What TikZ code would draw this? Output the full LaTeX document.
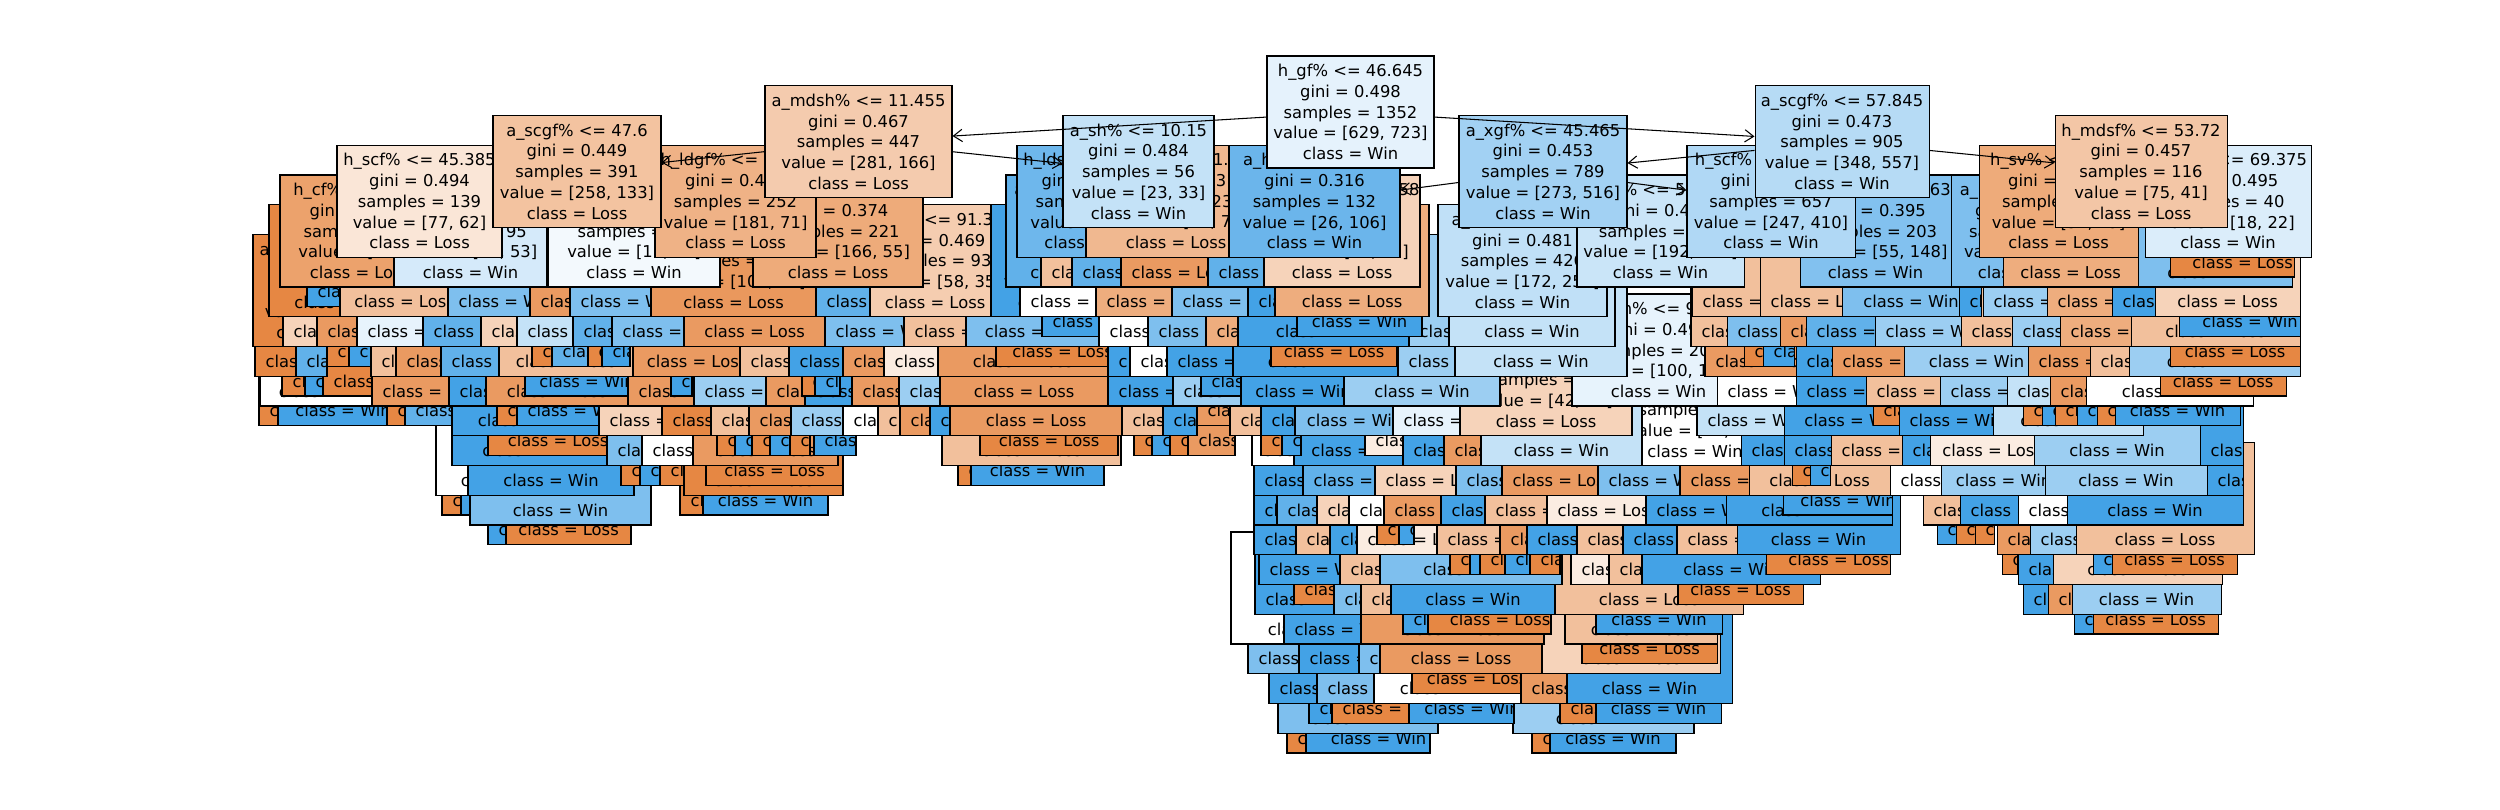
\documentclass[tikz,border=0pt]{standalone}
\usepackage{fontspec}
\setmainfont{DejaVu Sans}
\usetikzlibrary{arrows.meta}

\definecolor{loss}{RGB}{229,129,57}
\definecolor{win}{RGB}{57,157,229}
\colorlet{L1}{loss!95!white}
\colorlet{L2}{loss!80!white}
\colorlet{L3}{loss!65!white}
\colorlet{L4}{loss!50!white}
\colorlet{L5}{loss!35!white}
\colorlet{L6}{loss!15!white}
\colorlet{W1}{win!95!white}
\colorlet{W2}{win!80!white}
\colorlet{W3}{win!65!white}
\colorlet{W4}{win!50!white}
\colorlet{W5}{win!30!white}
\colorlet{W6}{win!12!white}
\colorlet{W7}{white}

\def\labL{class = Loss}
\def\labW{class = Win}

\tikzset{
  treenode/.style={draw, line width=0.6pt, inner sep=0pt, align=center,
    font=\fontsize{9.3}{11.8}\selectfont, minimum height=2.24cm},
  stripbox/.style={draw, line width=0.6pt, inner sep=0pt},
  striplabel/.style={draw=none, fill=none, inner sep=0pt, font=\fontsize{9.3}{11.8}\selectfont},
  narrowlabel/.style={path picture={\node[striplabel, anchor=west] at ([xshift=0.2cm, yshift=0.3cm]path picture bounding box.south west) {\striplab};}},
  widelabel/.style={path picture={\node[striplabel] at ([yshift=0.3cm]path picture bounding box.south) {\striplab};}},
  split/.style={-{Straight Barb[length=5pt, width=7pt]}, line width=0.6pt},
}

\def\stripparse#1#2#3\relax{\def\stripcol{#1#2}\def\striplab{\csname lab#1\endcsname}%
  \if#3l\def\striph{92}\else\def\striph{112}\fi}

\newcommand\tstrip[4]{%
  \expandafter\stripparse#4\relax
  \pgfmathsetmacro\stripw{#3-#2}%
  \pgfmathsetmacro\stripx{(#2+#3)/2}%
  \pgfmathsetmacro\stripy{112+29.75*#1}%
  \ifdim\stripw pt<125pt
    \node[stripbox, narrowlabel, fill=\stripcol, minimum width=\stripw*0.02cm, minimum height=\striph*0.02cm] (s#1-#2-#3) at (\stripx,\stripy) {};
  \else
    \node[stripbox, widelabel, fill=\stripcol, minimum width=\stripw*0.02cm, minimum height=\striph*0.02cm] (s#1-#2-#3) at (\stripx,\stripy) {};
  \fi}

\newcommand\tlevel[2]{\foreach \xa/\xb/\xk in {#2} {\tstrip{#1}{\xa}{\xb}{\xk}}}

\newcommand\tnode[6]{\pgfmathsetmacro\tny{112+29.75*#3}%
  \node[treenode, fill=#5, minimum width=#4*0.02cm] (#1) at (#2,\tny) {#6};}

\begin{document}
\begin{tikzpicture}[x=0.02cm, y=-0.02cm]
\useasboundingbox (0,0) rectangle (2500,810);

\tlevel{20}{1287/1306/L1l, 1306/1430/W1l, 1532/1550/L1l, 1550/1676/W1l}
\tlevel{19}{1278/1438/W3i, 1513/1694/W4i,
  1309/1332/W1l, 1332/1409/L1l, 1409/1514/W1l, 1560/1596/L1l, 1596/1721/W1l}
\tlevel{18}{1269/1317/W1i, 1317/1374/W3i, 1374/1521/W7i, 1521/1567/L2i, 1567/1732/W1i,
  1412/1521/L1l}
\tlevel{17}{1248/1299/W3i, 1299/1359/W1i, 1359/1380/W3i, 1380/1542/L2i, 1542/1720/L5i,
  1582/1717/L1l}
\tnode{a4}{1315.5}{16}{169}{white}{a\_sv\% <= 91.5\\gini = 0.5\\samples = 4\\value = [2, 2]\\class = Win}
\tlevel{16}{1284/1361/W1i, 1361/1544/L2i, 1565/1717/L4i,
  1403/1428/W1l, 1428/1551/L1l, 1596/1722/W1l, 2074/2093/W1l, 2093/2218/L1l}
\tlevel{15}{1255/1334/W1i, 1334/1361/W3i, 1361/1391/L4i, 1391/1555/W1i, 1555/1743/L4i,
  2023/2048/W1i, 2048/2072/L2i, 2072/2221/W4i,
  1294/1334/L1l, 1678/1803/L1l}
\tlevel{14}{1259/1340/W1i, 1340/1380/L4i, 1380/1562/W3i, 1571/1609/L6i, 1609/1642/L4i,
  1642/1820/W1i, 2018/2053/W1i, 2053/2222/L5i,
  1450/1470/L1l, 1470/1480/W1l, 1480/1505/L1l, 1505/1530/W1l, 1530/1560/L1l,
  1766/1890/L1l, 2002/2017/L1l, 2093/2112/W1l, 2112/2237/L1l}
\tlevel{13}{1254/1296/W1i, 1296/1330/L4i, 1330/1357/W1i, 1357/1437/L6i, 1437/1500/L4i,
  1500/1527/L2i, 1527/1577/W1i, 1577/1623/L4i, 1623/1677/W1i, 1677/1737/L4i,
  1737/1900/W1i, 1997/2030/L2i, 2030/2076/W4i, 2076/2254/L4i,
  488/506/W1l, 506/631/L1l, 1377/1399/L1l, 1399/1414/W1l, 1937/1956/W1l,
  1956/1975/L1l, 1975/1994/L1l}
\tlevel{12}{470/651/W3i, 1254/1277/W1i, 1277/1317/W2i, 1317/1349/L5i, 1349/1384/W7i,
  1384/1441/L2i, 1441/1485/W1i, 1485/1547/L4i, 1547/1646/L6i, 1646/1726/W1i,
  1726/1892/W1i, 1923/1960/L4i, 1960/2018/W1i, 2018/2067/W7i, 2067/2243/W1i,
  442/461/L1l, 461/470/W1l, 680/703/L1l, 703/828/W1l, 1783/1892/W1l}
\tlevel{11}{436/560/W7i, 468/634/W1i, 684/843/L1i, 1254/1303/W1i, 1303/1375/W2i,
  1375/1456/L5i, 1456/1502/W3i, 1502/1598/L2i, 1598/1680/W3i, 1680/1749/L2i,
  1749/1890/L4i, 1890/1941/W7i, 1941/2045/W4i, 2045/2207/W4i, 2207/2243/W1i,
  621/640/L1l, 640/660/W1l, 660/684/L1l, 706/843/L1l, 958/971/L1l, 971/1104/W1l,
  1792/1810/L1l, 1810/1830/W1l}
\tnode{w24}{1695}{10}{160}{white}{h\_gf\% <= 50.0\\gini = 0.5\\samples = 24\\value = [12, 12]\\class = Win}
\tlevel{10}{452/608/W1i, 607/642/W3i, 642/693/W7i, 693/838/L2i, 942/1121/L4i,
  1252/1295/W7i, 1294/1403/W1i, 1403/1444/W1i, 1444/1481/L2i, 1481/1642/W5i,
  1741/1784/W1i, 1784/1831/W1i, 1831/1902/L4i, 1902/1930/W1i, 1930/2034/L6i,
  2034/2200/W4i, 2200/2243/W1i,
  488/607/L1l, 717/735/L1l, 735/752/W1l, 752/770/L1l, 770/790/W1l, 790/810/L1l,
  814/856/W1l, 980/1118/L1l, 1134/1152/L1l, 1152/1170/W1l, 1170/1188/L1l,
  1188/1235/L2l, 1261/1282/L1l, 1282/1301/W1l, 1365/1403/L6l}
\tnode{v66}{1546}{9}{172}{L5}{a\_hdsv\% <= 91.5\\gini = 0.463\\samples = 66\\value = [42, 24]\\class = Loss}
\tlevel{9}{452/599/W1i, 599/662/L5i, 662/711/L1i, 711/749/L4i, 749/791/L2i, 791/843/W4i,
  843/878/W7i, 878/900/L4i, 900/930/L2i, 930/950/W1i, 950/1122/L2i, 1122/1163/L4i,
  1163/1197/W1i, 1230/1261/L4i, 1261/1295/W1i, 1295/1393/W3i, 1393/1460/W6i,
  1697/1785/W5i, 1784/1899/W1i, 1899/1993/W1i, 1993/2143/W5i,
  259/278/L1l, 278/387/W1l, 387/405/L1l, 405/452/W2l, 497/517/L1l, 517/599/W1l,
  1197/1230/L2l, 1873/1899/L1l, 2023/2042/L1l, 2042/2055/W1l, 2055/2077/L1l,
  2077/2097/W1l, 2097/2115/L1l, 2115/2240/W1l}
\tnode{shB}{1658.5}{8}{173}{W6}{a\_sh\% <= 9.85\\gini = 0.499\\samples = 207\\value = [100, 107]\\class = Win}
\tlevel{8}{260/372/W7i, 372/449/L2i, 449/486/W1i, 486/628/L2i, 628/694/L2i, 694/766/W4i,
  766/805/L2i, 805/852/W1i, 852/899/L2i, 899/940/W4i, 940/1108/L2i, 1108/1173/W1i,
  1173/1241/W4i, 1241/1344/W1i, 1344/1500/W4i, 1717/1796/W7i, 1796/1866/W1i,
  1866/1940/L4i, 1940/2007/W4i, 2007/2050/W5i, 2050/2086/L2i, 2086/2253/W7i,
  282/305/L1l, 305/323/W1l, 323/372/L1l, 525/628/W1l, 671/692/W1l, 802/815/L1l,
  815/840/W1l, 1201/1241/W1l, 2160/2286/L1l}
\tlevel{7}{255/296/L1i, 296/327/W2i, 371/396/L4i, 396/441/L2i, 441/499/W2i, 499/633/L4i,
  633/740/L2i, 740/789/L4i, 789/843/W1i, 843/884/L2i, 884/938/L6i, 938/1108/L2i,
  1108/1130/W1i, 1130/1167/W7i, 1167/1233/W1i, 1233/1398/W1i, 1398/1455/W4i,
  1455/1627/W5i, 1705/1796/L2i, 1796/1832/W1i, 1832/1904/L2i, 1904/2028/W4i,
  2028/2090/L2i, 2090/2129/L4i, 2129/2300/W4i,
  327/349/L1l, 349/371/W1l, 532/552/L1l, 552/588/W2l, 588/602/L1l, 602/630/W1l,
  996/1108/L1l, 1271/1397/L1l, 1744/1763/L1l, 1763/1794/W1l, 2170/2300/L1l}
\tnode{a6}{326.5}{6}{147}{L1}{a\_xgf\% <= 38.9\\gini = 0.1\\samples = 19\\value = [18, 1]\\class = Loss}
\tlevel{6}{283/317/L5i, 317/357/L2i, 357/423/W6i, 423/481/W2i, 481/517/L5i, 517/573/W5i,
  573/612/W2i, 612/684/W3i, 684/825/L2i, 825/905/W3i, 904/966/L4i, 966/1099/W3i,
  1099/1148/W7i, 1148/1206/W3i, 1206/1238/L3i, 1238/1409/W1i, 1409/1449/W4i,
  1449/1615/W5i, 1691/1727/L4i, 1727/1780/W3i, 1780/1806/L2i, 1806/1875/W2i,
  1875/1961/W4i, 1961/2012/L4i, 2012/2060/W4i, 2060/2131/L3i, 2131/2300/L4i,
  1042/1099/W1l, 1297/1422/W1l, 2179/2300/W1l}
\tnode{a5}{344.5}{5}{151}{L1}{a\_gf\% <= 37.5\\gini = 0.18\\samples = 30\\value = [27, 3]\\class = Loss}
\tnode{v128}{733.5}{5}{165}{loss!82!white}{a\_ldgf\% <= 41.1\\gini = 0.264\\samples = 128\\value = [108, 20]\\class = Loss}
\tnode{v93}{935}{5}{140}{loss!40!white}{h\_sv\% <= 91.35\\gini = 0.469\\samples = 93\\value = [58, 35]\\class = Loss}
\tnode{h13}{1065.5}{5}{149}{W1}{h\_pdo <= 99.2\\gini = 0.142\\samples = 13\\value = [1, 12]\\class = Win}
\tnode{v426}{1522.5}{5}{169}{win!32!white}{a\_ldsh\% <= 12.5\\gini = 0.481\\samples = 426\\value = [172, 254]\\class = Win}
\tlevel{5}{340/448/L4i, 448/530/W3i, 530/570/L2i, 570/651/W3i, 816/870/W2i,
  1020/1096/W7i, 1096/1172/L3i, 1172/1248/W3i, 1248/1275/W1i, 1275/1429/L3i,
  1692/1760/L4i, 1760/1842/L4i, 1842/1959/W3i, 1959/1981/W1i, 1983/2047/W4i,
  2047/2112/L3i, 2112/2155/W1i, 2155/2300/L5i,
  307/340/W1l}
\tnode{cf}{360}{4}{160}{loss!74!white}{h\_cf\% <= 49.08\\gini = 0.326\\samples = 44\\value = [35, 9]\\class = Loss}
\tnode{v95}{470.5}{4}{153}{win!21!white}{a\_scf\% <= 46.47\\gini = 0.493\\samples = 95\\value = [42, 53]\\class = Win}
\tnode{v31}{634}{4}{172}{win!6!white}{h\_xgf\% <= 51.2\\gini = 0.499\\samples = 31\\value = [15, 16]\\class = Win}
\tnode{v221}{838}{4}{170}{loss!67!white}{a\_hdcf\% <= 61.3\\gini = 0.374\\samples = 221\\value = [166, 55]\\class = Loss}
\tnode{a26}{1078}{4}{144}{W2}{a\_ldcf\% <= 2.5\\gini = 0.26\\samples = 26\\value = [4, 22]\\class = Win}
\tnode{p58}{1342}{4}{156}{L5}{h\_xgf\% <= 50.458\\gini = 0.471\\samples = 29\\value = [18, 11]\\class = Loss}
\tnode{v454}{1660.5}{4}{167}{win!27!white}{a\_cf\% <= 52.915\\gini = 0.488\\samples = 454\\value = [192, 262]\\class = Win}
\tnode{v203}{1875.5}{4}{151}{win!63!white}{h\_scsf\% <= 55.63\\gini = 0.395\\samples = 203\\value = [55, 148]\\class = Win}
\tnode{al}{2025.5}{4}{149}{W3}{a\_ldsh\% <= 9.5\\gini = 0.444\\samples = 24\\value = [8, 16]\\class = Win}
\tlevel{4}{1041/1072/L4i, 1072/1121/W2i, 1121/1208/L2i, 1208/1264/W2i,
  2003/2138/L3i, 2138/2292/W3i, 2170/2294/L1l}
\tnode{scfA}{419.5}{3}{165}{loss!20!white}{h\_scf\% <= 45.385\\gini = 0.494\\samples = 139\\value = [77, 62]\\class = Loss}
\tnode{ldgf}{735.5}{3}{161}{loss!61!white}{h\_ldgf\% <= 48.93\\gini = 0.405\\samples = 252\\value = [181, 71]\\class = Loss}
\tnode{lds}{1092}{3}{150}{win!73!white}{h\_ldsf\% <= 52.6\\gini = 0.334\\samples = 33\\value = [7, 26]\\class = Win}
\tnode{svA}{1176}{3}{180}{loss!56!white}{a\_sv\% <= 91.1\\gini = 0.423\\samples = 23\\value = [16, 7]\\class = Loss}
\tnode{ah}{1314.5}{3}{171}{win!75!white}{a\_hdsf\% <= 45.5\\gini = 0.316\\samples = 132\\value = [26, 106]\\class = Win}
\tnode{scfB}{1771}{3}{168}{win!40!white}{h\_scf\% <= 52.105\\gini = 0.469\\samples = 657\\value = [247, 410]\\class = Win}
\tnode{svB}{2058.5}{3}{159}{loss!67!white}{h\_sv\% <= 90.28\\gini = 0.375\\samples = 76\\value = [57, 19]\\class = Loss}
\tnode{ldsf}{2228}{3}{166}{win!18!white}{a\_ldsf\% <= 69.375\\gini = 0.495\\samples = 40\\value = [18, 22]\\class = Win}
\tnode{scgfA}{577}{2}{168}{loss!48!white}{a\_scgf\% <= 47.6\\gini = 0.449\\samples = 391\\value = [258, 133]\\class = Loss}
\tnode{sh}{1138.5}{2}{151}{win!30!white}{a\_sh\% <= 10.15\\gini = 0.484\\samples = 56\\value = [23, 33]\\class = Win}
\tnode{xgf}{1543}{2}{168}{win!47!white}{a\_xgf\% <= 45.465\\gini = 0.453\\samples = 789\\value = [273, 516]\\class = Win}
\tnode{mdsf}{2141}{2}{172}{loss!45!white}{h\_mdsf\% <= 53.72\\gini = 0.457\\samples = 116\\value = [75, 41]\\class = Loss}
\tnode{mdsh}{858.5}{1}{187}{loss!41!white}{a\_mdsh\% <= 11.455\\gini = 0.467\\samples = 447\\value = [281, 166]\\class = Loss}
\tnode{scgfB}{1842}{1}{174}{win!37!white}{a\_scgf\% <= 57.845\\gini = 0.473\\samples = 905\\value = [348, 557]\\class = Win}
\tnode{root}{1350.5}{0}{167}{win!13!white}{h\_gf\% <= 46.645\\gini = 0.498\\samples = 1352\\value = [629, 723]\\class = Win}

\draw[split] (root) -- (mdsh);
\draw[split] (root) -- (scgfB);
\draw[split] (mdsh) -- (scgfA);
\draw[split] (mdsh) -- (sh);
\draw[split] (scgfB) -- (xgf);
\draw[split] (scgfB) -- (mdsf);
\draw[split] (xgf) -- (ah);
\draw[split] (xgf) -- (scfB);
\end{tikzpicture}
\end{document}
